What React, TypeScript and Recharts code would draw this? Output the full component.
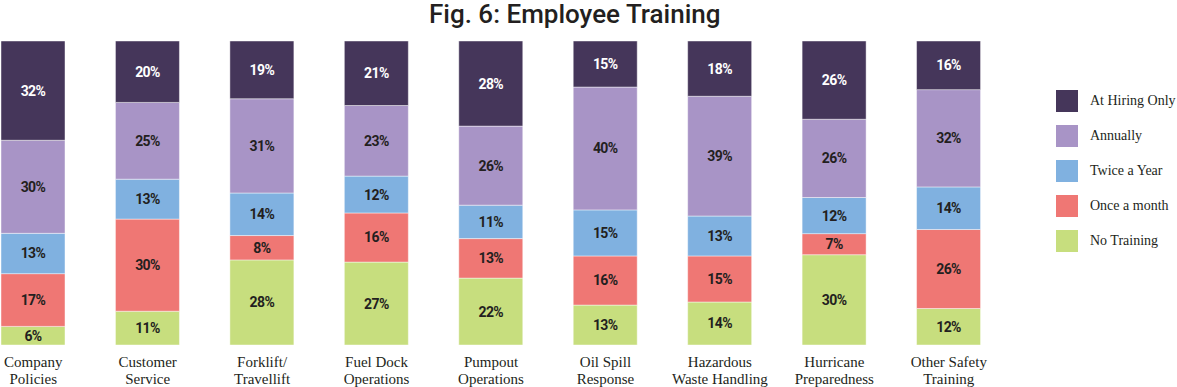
import { BarChart, Bar, XAxis, YAxis, LabelList } from "recharts";

const categories = [
  "Company\nPolicies",
  "Customer\nService",
  "Forklift/\nTravellift",
  "Fuel Dock\nOperations",
  "Pumpout\nOperations",
  "Oil Spill\nResponse",
  "Hazardous\nWaste Handling",
  "Hurricane\nPreparedness",
  "Other Safety\nTraining",
];

// values in % per category, bottom segment first
const noTraining = [6, 11, 28, 27, 22, 13, 14, 30, 12];
const onceAMonth = [17, 30, 8, 16, 13, 16, 15, 7, 26];
const twiceAYear = [13, 13, 14, 12, 11, 15, 13, 12, 14];
const annually = [30, 25, 31, 23, 26, 40, 39, 26, 32];
const atHiringOnly = [32, 20, 19, 21, 28, 15, 18, 26, 16];

const series = [
  { key: "noTraining", name: "No Training", color: "#c7de7e", values: noTraining, text: "#231f20" },
  { key: "onceAMonth", name: "Once a month", color: "#ef7774", values: onceAMonth, text: "#231f20" },
  { key: "twiceAYear", name: "Twice a Year", color: "#80b1e0", values: twiceAYear, text: "#231f20" },
  { key: "annually", name: "Annually", color: "#a894c6", values: annually, text: "#231f20" },
  { key: "atHiringOnly", name: "At Hiring Only", color: "#45365a", values: atHiringOnly, text: "#ffffff" },
];

const data = categories.map((c, i) => {
  const row: Record<string, string | number> = { name: c };
  series.forEach((s) => (row[s.key] = s.values[i]));
  return row;
});

const SERIF = "'Liberation Serif', serif";
const SANS = "Roboto, sans-serif";

function CategoryTick(props: any) {
  const { x, y, payload } = props;
  const lines = String(payload.value).split("\n");
  return (
    <text x={x} y={y} textAnchor="middle" fontFamily={SERIF} fontSize={15} fill="#231f20">
      {lines.map((l, i) => (
        <tspan key={i} x={x} y={y + 22 + i * 17}>
          {l}
        </tspan>
      ))}
    </text>
  );
}

function SideLegend() {
  const items = [...series].reverse();
  return (
    <div style={{ position: "absolute", left: 1056, top: 83 }}>
      {items.map((s) => (
        <div key={s.key} style={{ display: "flex", alignItems: "center", height: 35 }}>
          <span style={{ width: 22, height: 22, background: s.color, display: "inline-block", marginRight: 12 }} />
          <span style={{ fontFamily: SERIF, fontSize: 14, color: "#231f20", whiteSpace: "nowrap" }}>{s.name}</span>
        </div>
      ))}
    </div>
  );
}

export default function App() {
  return (
    <div style={{ position: "absolute", left: 0, top: 0, width: 1177, height: 387, background: "#fff" }}>
      <div
        style={{
          position: "absolute",
          left: 429,
          top: 1,
          fontFamily: SANS,
          fontWeight: 500,
          fontSize: 26,
          lineHeight: "26px",
          color: "#231f20",
          whiteSpace: "nowrap",
        }}
      >
        Fig. 6: Employee Training
      </div>
      <BarChart
        width={1177}
        height={387}
        data={data}
        stackOffset="expand"
        barSize={64}
        margin={{ top: 41, right: 171, left: -24, bottom: 2 }}
      >
        <XAxis
          dataKey="name"
          axisLine={false}
          tickLine={false}
          tickSize={0}
          tickMargin={0}
          height={40}
          interval={0}
          tick={<CategoryTick />}
        />
        <YAxis hide domain={[0, 1]} />
        {series.map((s) => (
          <Bar
            key={s.key}
            dataKey={s.key}
            name={s.name}
            stackId="a"
            fill={s.color}
            stroke="rgba(255,255,255,0.45)"
            strokeWidth={1}
            isAnimationActive={false}
          >
            <LabelList
              dataKey={s.key}
              position="center"
              formatter={(v: any) => `${v}%`}
              fill={s.text}
              fontFamily={SANS}
              fontWeight={700}
              fontSize={14}
              letterSpacing={-0.6}
            />
          </Bar>
        ))}
      </BarChart>
      <SideLegend />
    </div>
  );
}
